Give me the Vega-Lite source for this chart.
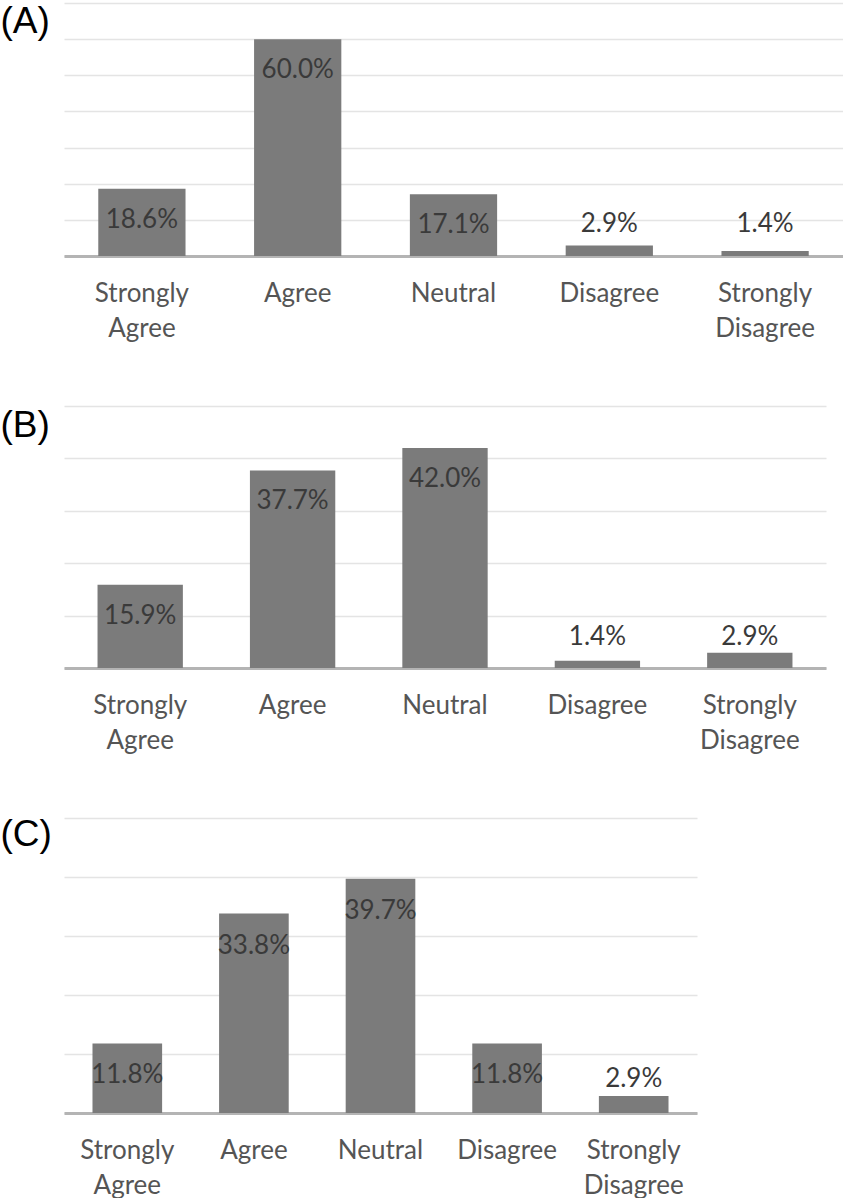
{
  "$schema": "https://vega.github.io/schema/vega-lite/v6.json",
  "background": "white",
  "padding": {"left": 0, "top": 2, "right": 0, "bottom": 0},
  "autosize": {"type": "pad"},
  "bounds": "flush",
  "spacing": 150,
  "config": {
    "view": {"stroke": null},
    "text": {"font": "Lato", "fontSize": 26, "color": "#3a3a3a", "align": "center", "baseline": "middle"},
    "axisX": {
      "title": null, "domain": true, "domainColor": "#b4b4b4", "domainWidth": 3, "ticks": false, "grid": false,
      "labelFont": "Lato", "labelFontSize": 26, "labelColor": "#555555", "labelPadding": 24, "labelAngle": 0,
      "labelLineHeight": 35, "labelBaseline": "top", "labelOverlap": false, "labelBound": false, "labelLimit": 300,
      "labelExpr": "split(datum.label, ' ')"
    },
    "axisY": {
      "labels": false, "ticks": false, "domain": false, "grid": true, "gridColor": "#e4e4e4", "gridWidth": 1.5,
      "titleAngle": 0, "titleX": -64, "titleAlign": "left", "titleBaseline": "middle",
      "titleFont": "Liberation Sans", "titleFontSize": 37, "titleFontWeight": "normal", "titleColor": "#000000"
    }
  },
  "datasets": {
    "A": [
      {"category": "Strongly Agree", "value": 0.186},
      {"category": "Agree", "value": 0.600},
      {"category": "Neutral", "value": 0.171},
      {"category": "Disagree", "value": 0.029},
      {"category": "Strongly Disagree", "value": 0.014}
    ],
    "B": [
      {"category": "Strongly Agree", "value": 0.159},
      {"category": "Agree", "value": 0.377},
      {"category": "Neutral", "value": 0.420},
      {"category": "Disagree", "value": 0.014},
      {"category": "Strongly Disagree", "value": 0.029}
    ],
    "C": [
      {"category": "Strongly Agree", "value": 0.118},
      {"category": "Agree", "value": 0.338},
      {"category": "Neutral", "value": 0.397},
      {"category": "Disagree", "value": 0.118},
      {"category": "Strongly Disagree", "value": 0.029}
    ]
  },
  "vconcat": [
    {
      "width": 779, "height": 253,
      "data": {"name": "A"},
      "encoding": {
        "x": {"field": "category", "type": "nominal", "sort": null, "scale": {"paddingInner": 0.44, "paddingOuter": 0.22}},
        "y": {"field": "value", "type": "quantitative", "scale": {"domain": [0, 0.7]},
          "axis": {"title": "(A)", "titleY": 18, "values": [0, 0.1, 0.2, 0.3, 0.4, 0.5, 0.6, 0.7]}}
      },
      "layer": [
        {"mark": {"type": "bar", "color": "#7b7b7b"}},
        {
          "transform": [{"filter": "datum.value >= 0.1"}],
          "mark": {"type": "text", "dy": 31},
          "encoding": {"text": {"field": "value", "type": "quantitative", "format": ".1%"}}
        },
        {
          "transform": [{"filter": "datum.value < 0.1"}],
          "mark": {"type": "text", "dy": -32},
          "encoding": {
            "y": {"datum": 0, "type": "quantitative"},
            "text": {"field": "value", "type": "quantitative", "format": ".1%"}
          }
        }
      ]
    },
    {
      "width": 762, "height": 262,
      "data": {"name": "B"},
      "encoding": {
        "x": {"field": "category", "type": "nominal", "sort": null, "scale": {"paddingInner": 0.44, "paddingOuter": 0.22}},
        "y": {"field": "value", "type": "quantitative", "scale": {"domain": [0, 0.5]},
          "axis": {"title": "(B)", "titleY": 19, "values": [0, 0.1, 0.2, 0.3, 0.4, 0.5]}}
      },
      "layer": [
        {"mark": {"type": "bar", "color": "#7b7b7b"}},
        {
          "transform": [{"filter": "datum.value >= 0.1"}],
          "mark": {"type": "text", "dy": 31},
          "encoding": {"text": {"field": "value", "type": "quantitative", "format": ".1%"}}
        },
        {
          "transform": [{"filter": "datum.value < 0.1"}],
          "mark": {"type": "text", "dy": -31},
          "encoding": {
            "y": {"datum": 0, "type": "quantitative"},
            "text": {"field": "value", "type": "quantitative", "format": ".1%"}
          }
        }
      ]
    },
    {
      "width": 633, "height": 295,
      "data": {"name": "C"},
      "encoding": {
        "x": {"field": "category", "type": "nominal", "sort": null, "scale": {"paddingInner": 0.45, "paddingOuter": 0.225}},
        "y": {"field": "value", "type": "quantitative", "scale": {"domain": [0, 0.5]},
          "axis": {"title": "(C)", "titleY": 16, "values": [0, 0.1, 0.2, 0.3, 0.4, 0.5]}}
      },
      "layer": [
        {"mark": {"type": "bar", "color": "#7b7b7b"}},
        {
          "transform": [{"filter": "datum.value >= 0.1"}],
          "mark": {"type": "text", "dy": 32},
          "encoding": {"text": {"field": "value", "type": "quantitative", "format": ".1%"}}
        },
        {
          "transform": [{"filter": "datum.value < 0.1"}],
          "mark": {"type": "text", "dy": -34},
          "encoding": {
            "y": {"datum": 0, "type": "quantitative"},
            "text": {"field": "value", "type": "quantitative", "format": ".1%"}
          }
        }
      ]
    }
  ]
}
